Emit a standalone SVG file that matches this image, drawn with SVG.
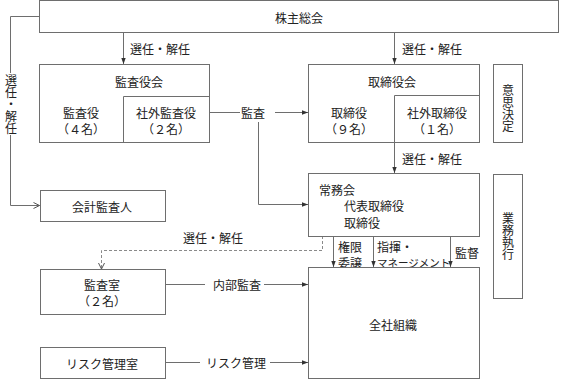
<svg xmlns="http://www.w3.org/2000/svg" width="566" height="379" viewBox="0 0 566 379">
<style>
.b{fill:#fff;stroke:#6e6e6e;stroke-width:1}
.l{fill:none;stroke:#6e6e6e;stroke-width:1}
.d{fill:none;stroke:#8a8a8a;stroke-width:1;stroke-dasharray:3,2}
text{font-family:"Noto Sans CJK JP","Noto Sans CJK SC",sans-serif;font-size:12px;fill:#222;dominant-baseline:central}
.c{text-anchor:middle}
.v{writing-mode:vertical-rl;text-anchor:middle;dominant-baseline:auto}
.s{font-size:10.5px}
</style>
<defs>
<marker id="a" markerWidth="6" markerHeight="6" refX="6" refY="3" orient="auto" markerUnits="userSpaceOnUse"><path d="M0,0.8L6,3L0,5.2z" fill="#333"/></marker>
<marker id="o" markerWidth="8" markerHeight="8" refX="7" refY="4" orient="auto" markerUnits="userSpaceOnUse"><path d="M1,1L7,4L1,7" fill="none" stroke="#555" stroke-width="1"/></marker>
</defs>
<g id="connectors">
<path class="l" d="M39.5,16.5H10.5V73"/>
<path class="l" d="M10.5,135V205.5H39.5" marker-end="url(#o)"/>
<path class="l" d="M123.5,32.5V64" marker-end="url(#a)"/>
<path class="l" d="M394.5,32.5V64" marker-end="url(#a)"/>
<path class="l" d="M209,112.5H240"/>
<path class="l" d="M275,112.5H308" marker-end="url(#a)"/>
<path class="l" d="M258.5,122V204.5H308" marker-end="url(#a)"/>
<path class="l" d="M394.5,142.5V173" marker-end="url(#a)"/>
<path class="d" d="M333,206.5H322.5V250.5H101.5V269" marker-end="url(#o)"/>
<path class="l" d="M333.5,236.5V267" marker-end="url(#a)"/>
<path class="l" d="M373.5,236.5V267" marker-end="url(#a)"/>
<path class="l" d="M450.5,236.5V267" marker-end="url(#a)"/>
<path class="l" d="M165,284.5H205"/>
<path class="l" d="M264,284.5H308" marker-end="url(#a)"/>
<path class="l" d="M165,362.5H200"/>
<path class="l" d="M270,362.5H308" marker-end="url(#a)"/>
<text x="130" y="48">選任・解任</text>
<text x="402" y="48">選任・解任</text>
<text x="402" y="158">選任・解任</text>
<text x="183" y="237">選任・解任</text>
<text x="241" y="112">監査</text>
<text x="213" y="284">内部監査</text>
<text x="206" y="362">リスク管理</text>
<text x="338" y="246">権限</text>
<text x="338" y="262">委譲</text>
<text x="377" y="246">指揮・</text>
<text x="377" y="262" class="s">マネージメント</text>
<text x="455" y="252">監督</text>
<text class="v" x="11" y="104">選任・解任</text>
</g>
<g id="kabunushi"><rect class="b" x="39.5" y="0.5" width="519" height="32"/><text class="c" x="299" y="17">株主総会</text></g>
<g id="kansayakukai"><rect class="b" x="39.5" y="64.5" width="170" height="78"/><path class="l" d="M123.5,142.5V96.5H209.5"/>
<text class="c" x="139" y="81">監査役会</text><text class="c" x="81" y="112">監査役</text><text class="c" x="81" y="128">（４名）</text>
<text class="c" x="166" y="112">社外監査役</text><text class="c" x="166" y="128">（２名）</text></g>
<g id="torishimariyakukai"><rect class="b" x="308.5" y="64.5" width="171" height="78"/><path class="l" d="M394.5,142.5V95.5H479.5"/>
<text class="c" x="392" y="81">取締役会</text><text class="c" x="349" y="112">取締役</text><text class="c" x="349" y="128">（９名）</text>
<text class="c" x="437" y="112">社外取締役</text><text class="c" x="437" y="128">（１名）</text></g>
<g id="ishikettei"><rect class="b" x="493.5" y="64.5" width="29" height="78"/><text class="v" x="508" y="108">意思決定</text></g>
<g id="joumukai"><rect class="b" x="308.5" y="173.5" width="171" height="63"/>
<text x="319" y="189">常務会</text><text x="344" y="205">代表取締役</text><text x="344" y="222">取締役</text></g>
<g id="gyoumu"><rect class="b" x="493.5" y="174.5" width="29" height="124"/><text class="v" x="508" y="236">業務執行</text></g>
<g id="kaikei"><rect class="b" x="40.5" y="190.5" width="125" height="31"/><text class="c" x="102" y="206">会計監査人</text></g>
<g id="kansashitsu"><rect class="b" x="40.5" y="269.5" width="125" height="45"/><text class="c" x="102" y="284">監査室</text><text class="c" x="102" y="300">（２名）</text></g>
<g id="risk"><rect class="b" x="40.5" y="347.5" width="125" height="31"/><text class="c" x="102" y="363">リスク管理室</text></g>
<g id="zensha"><rect class="b" x="308.5" y="267.5" width="171" height="111"/><text class="c" x="393" y="324">全社組織</text></g>
</svg>
